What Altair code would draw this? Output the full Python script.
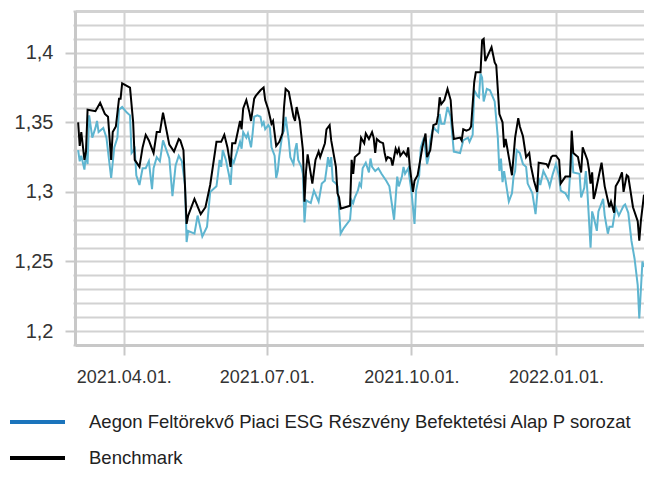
import altair as alt
import pandas as pd

fund_name = "Aegon Feltörekvő Piaci ESG Részvény Befektetési Alap P sorozat"
bench_name = "Benchmark"

fund_dates = [
    "2021-03-03", "2021-03-04", "2021-03-05", "2021-03-07", "2021-03-08", "2021-03-09", "2021-03-10", "2021-03-12",
    "2021-03-14", "2021-03-15", "2021-03-16", "2021-03-19", "2021-03-21", "2021-03-24", "2021-03-26", "2021-03-28",
    "2021-03-29", "2021-03-31",
    "2021-04-03", "2021-04-05", "2021-04-06", "2021-04-08", "2021-04-09", "2021-04-11", "2021-04-13", "2021-04-15",
    "2021-04-17", "2021-04-19", "2021-04-20", "2021-04-22", "2021-04-24", "2021-04-26", "2021-04-30",
    "2021-05-02", "2021-05-04", "2021-05-06", "2021-05-08", "2021-05-10", "2021-05-11", "2021-05-12", "2021-05-16",
    "2021-05-18", "2021-05-21", "2021-05-24", "2021-05-26", "2021-05-30", "2021-05-31",
    "2021-06-01", "2021-06-02", "2021-06-03", "2021-06-05", "2021-06-07", "2021-06-08", "2021-06-09", "2021-06-10",
    "2021-06-14", "2021-06-15", "2021-06-16", "2021-06-18", "2021-06-19", "2021-06-21", "2021-06-22", "2021-06-23",
    "2021-06-25", "2021-06-27", "2021-06-28", "2021-06-29", "2021-06-30",
    "2021-07-02", "2021-07-03", "2021-07-04", "2021-07-06", "2021-07-07", "2021-07-08", "2021-07-09", "2021-07-11",
    "2021-07-12", "2021-07-13", "2021-07-15", "2021-07-16", "2021-07-18", "2021-07-19", "2021-07-20", "2021-07-21",
    "2021-07-23", "2021-07-24", "2021-07-25", "2021-07-26", "2021-07-29", "2021-07-31",
    "2021-08-03", "2021-08-05", "2021-08-07", "2021-08-08", "2021-08-09", "2021-08-10", "2021-08-11", "2021-08-12",
    "2021-08-14", "2021-08-15", "2021-08-17", "2021-08-19", "2021-08-23", "2021-08-24", "2021-08-25", "2021-08-26",
    "2021-08-28", "2021-08-29", "2021-08-30", "2021-08-31",
    "2021-09-02", "2021-09-04", "2021-09-05", "2021-09-06", "2021-09-08", "2021-09-10", "2021-09-12", "2021-09-15",
    "2021-09-17", "2021-09-20", "2021-09-22", "2021-09-23", "2021-09-25", "2021-09-26", "2021-09-27", "2021-09-29",
    "2021-10-01", "2021-10-03", "2021-10-04", "2021-10-06", "2021-10-07", "2021-10-09", "2021-10-11", "2021-10-12",
    "2021-10-13", "2021-10-15", "2021-10-16", "2021-10-18", "2021-10-19", "2021-10-20", "2021-10-22", "2021-10-24",
    "2021-10-26", "2021-10-28",
    "2021-11-01", "2021-11-03", "2021-11-06", "2021-11-07", "2021-11-09", "2021-11-10", "2021-11-12", "2021-11-13",
    "2021-11-14", "2021-11-15", "2021-11-16", "2021-11-18", "2021-11-20", "2021-11-23", "2021-11-25", "2021-11-26",
    "2021-11-27", "2021-11-28", "2021-11-29",
    "2021-12-02", "2021-12-04", "2021-12-05", "2021-12-06", "2021-12-07", "2021-12-09", "2021-12-11", "2021-12-13",
    "2021-12-14", "2021-12-17", "2021-12-19", "2021-12-21", "2021-12-22", "2021-12-24", "2021-12-27", "2021-12-28",
    "2021-12-30",
    "2022-01-01", "2022-01-03", "2022-01-04", "2022-01-07", "2022-01-09", "2022-01-11", "2022-01-12", "2022-01-16",
    "2022-01-17", "2022-01-19", "2022-01-20", "2022-01-21", "2022-01-23", "2022-01-24", "2022-01-25", "2022-01-27",
    "2022-01-28", "2022-01-31",
    "2022-02-01", "2022-02-03", "2022-02-04", "2022-02-06", "2022-02-08", "2022-02-10", "2022-02-13", "2022-02-14",
    "2022-02-16", "2022-02-18", "2022-02-20", "2022-02-22", "2022-02-23", "2022-02-25", "2022-02-26",
]
fund_values = [
    1.330, 1.322, 1.326, 1.316, 1.328, 1.320, 1.355, 1.339, 1.346, 1.351, 1.343, 1.346, 1.339, 1.310, 1.332, 1.339,
    1.359, 1.361,
    1.357, 1.355, 1.328, 1.331, 1.312, 1.305, 1.317, 1.317, 1.322, 1.302, 1.317, 1.325, 1.322, 1.337, 1.324,
    1.297, 1.319, 1.326, 1.322, 1.305, 1.264, 1.272, 1.270, 1.283, 1.268, 1.275, 1.300, 1.304, 1.313,
    1.323, 1.318, 1.330, 1.323, 1.312, 1.305, 1.323, 1.321, 1.336, 1.331, 1.343, 1.339, 1.342, 1.332, 1.342, 1.354,
    1.355, 1.354, 1.348, 1.350, 1.345,
    1.348, 1.346, 1.332, 1.326, 1.310, 1.315, 1.326, 1.342, 1.344, 1.354, 1.337, 1.325, 1.320, 1.330, 1.335, 1.323,
    1.318, 1.313, 1.278, 1.294, 1.292, 1.301,
    1.293, 1.306, 1.308, 1.316, 1.325, 1.318, 1.325, 1.308, 1.306, 1.304, 1.270, 1.274, 1.280, 1.294, 1.292, 1.296,
    1.301, 1.306, 1.304, 1.317,
    1.321, 1.314, 1.324, 1.318, 1.315, 1.317, 1.313, 1.308, 1.304, 1.280, 1.311, 1.304, 1.311, 1.318, 1.313, 1.317,
    1.301, 1.277, 1.301, 1.312, 1.332, 1.339, 1.320, 1.325, 1.337, 1.347, 1.345, 1.343, 1.356, 1.349, 1.349, 1.361,
    1.354, 1.329,
    1.328, 1.337, 1.339, 1.336, 1.341, 1.373, 1.369, 1.368, 1.385, 1.382, 1.365, 1.374, 1.373, 1.365, 1.339, 1.315,
    1.324, 1.307, 1.315,
    1.293, 1.299, 1.311, 1.315, 1.330, 1.328, 1.320, 1.318, 1.306, 1.299, 1.284, 1.310, 1.305, 1.315, 1.308, 1.304,
    1.313,
    1.320, 1.311, 1.301, 1.299, 1.295, 1.332, 1.314, 1.313, 1.296, 1.303, 1.315, 1.300, 1.260, 1.286, 1.282, 1.272,
    1.286, 1.295,
    1.283, 1.270, 1.275, 1.275, 1.289, 1.283, 1.290, 1.291, 1.285, 1.265, 1.252, 1.233, 1.209, 1.250, 1.246,
]

bench_dates = [
    "2021-03-03", "2021-03-04", "2021-03-05", "2021-03-07", "2021-03-08", "2021-03-09", "2021-03-14", "2021-03-17",
    "2021-03-20", "2021-03-22", "2021-03-24", "2021-03-25", "2021-03-27", "2021-03-29", "2021-03-30", "2021-03-31",
    "2021-04-05", "2021-04-07", "2021-04-08", "2021-04-11", "2021-04-13", "2021-04-15", "2021-04-17", "2021-04-19",
    "2021-04-20", "2021-04-22", "2021-04-24", "2021-04-26", "2021-04-30",
    "2021-05-03", "2021-05-06", "2021-05-07", "2021-05-09", "2021-05-11", "2021-05-12", "2021-05-16", "2021-05-20",
    "2021-05-23", "2021-05-26", "2021-05-30", "2021-05-31",
    "2021-06-02", "2021-06-04", "2021-06-06", "2021-06-08", "2021-06-09", "2021-06-11", "2021-06-14", "2021-06-15",
    "2021-06-16", "2021-06-18", "2021-06-20", "2021-06-21", "2021-06-23", "2021-06-24", "2021-06-27", "2021-06-29",
    "2021-06-30",
    "2021-07-02", "2021-07-04", "2021-07-05", "2021-07-07", "2021-07-09", "2021-07-11", "2021-07-12", "2021-07-13",
    "2021-07-15", "2021-07-18", "2021-07-19", "2021-07-20", "2021-07-22", "2021-07-24", "2021-07-25", "2021-07-26",
    "2021-07-27", "2021-07-30",
    "2021-08-01", "2021-08-03", "2021-08-04", "2021-08-07", "2021-08-08", "2021-08-10", "2021-08-11", "2021-08-14",
    "2021-08-15", "2021-08-16", "2021-08-17", "2021-08-23", "2021-08-24", "2021-08-25", "2021-08-26", "2021-08-29",
    "2021-08-30",
    "2021-09-01", "2021-09-02", "2021-09-04", "2021-09-06", "2021-09-07", "2021-09-08", "2021-09-09", "2021-09-11",
    "2021-09-13", "2021-09-14", "2021-09-15", "2021-09-16", "2021-09-18", "2021-09-19", "2021-09-21", "2021-09-22",
    "2021-09-23", "2021-09-24", "2021-09-26", "2021-09-28", "2021-09-29", "2021-09-30",
    "2021-10-02", "2021-10-03", "2021-10-05", "2021-10-08", "2021-10-10", "2021-10-11", "2021-10-13", "2021-10-15",
    "2021-10-17", "2021-10-18", "2021-10-19", "2021-10-20", "2021-10-22", "2021-10-24", "2021-10-26", "2021-10-27",
    "2021-10-28",
    "2021-11-01", "2021-11-02", "2021-11-03", "2021-11-05", "2021-11-07", "2021-11-08", "2021-11-10", "2021-11-11",
    "2021-11-14", "2021-11-15", "2021-11-16", "2021-11-17", "2021-11-19", "2021-11-21", "2021-11-23", "2021-11-24",
    "2021-11-26", "2021-11-28", "2021-11-29", "2021-11-30",
    "2021-12-02", "2021-12-04", "2021-12-06", "2021-12-08", "2021-12-09", "2021-12-11", "2021-12-13", "2021-12-15",
    "2021-12-16", "2021-12-18", "2021-12-20", "2021-12-21", "2021-12-26", "2021-12-27", "2021-12-29", "2021-12-30",
    "2022-01-01", "2022-01-03", "2022-01-04", "2022-01-07", "2022-01-10", "2022-01-11", "2022-01-12", "2022-01-15",
    "2022-01-16", "2022-01-17", "2022-01-18", "2022-01-21", "2022-01-22", "2022-01-23", "2022-01-24", "2022-01-25",
    "2022-01-26", "2022-01-30",
    "2022-02-01", "2022-02-04", "2022-02-05", "2022-02-07", "2022-02-08", "2022-02-10", "2022-02-12", "2022-02-13",
    "2022-02-15", "2022-02-16", "2022-02-19", "2022-02-22", "2022-02-23", "2022-02-24", "2022-02-26",
]
bench_values = [
    1.350, 1.333, 1.343, 1.323, 1.329, 1.359, 1.358, 1.364, 1.356, 1.354, 1.323, 1.343, 1.347, 1.367, 1.367, 1.378,
    1.375, 1.350, 1.323, 1.318, 1.332, 1.341, 1.337, 1.331, 1.328, 1.343, 1.343, 1.357, 1.334,
    1.329, 1.338, 1.337, 1.330, 1.277, 1.283, 1.295, 1.284, 1.289, 1.305, 1.336, 1.336,
    1.336, 1.341, 1.332, 1.318, 1.335, 1.335, 1.351, 1.345, 1.360, 1.366, 1.357, 1.351, 1.367, 1.369, 1.373, 1.375,
    1.366,
    1.359, 1.349, 1.351, 1.333, 1.336, 1.342, 1.361, 1.374, 1.372, 1.354, 1.351, 1.361, 1.351, 1.330, 1.293, 1.315,
    1.327, 1.306,
    1.323, 1.329, 1.325, 1.335, 1.345, 1.348, 1.337, 1.318, 1.299, 1.296, 1.288, 1.290, 1.323, 1.313, 1.325, 1.328,
    1.339,
    1.335, 1.342, 1.338, 1.343, 1.339, 1.328, 1.338, 1.336, 1.335, 1.328, 1.323, 1.325, 1.324, 1.319, 1.331, 1.328,
    1.331, 1.326, 1.329, 1.326, 1.332, 1.318,
    1.300, 1.308, 1.312, 1.332, 1.342, 1.325, 1.330, 1.348, 1.349, 1.355, 1.368, 1.363, 1.366, 1.374, 1.366, 1.349,
    1.338,
    1.339, 1.337, 1.345, 1.344, 1.345, 1.347, 1.379, 1.386, 1.386, 1.409, 1.410, 1.394, 1.399, 1.404, 1.393, 1.391,
    1.356, 1.350, 1.332, 1.338,
    1.325, 1.312, 1.339, 1.353, 1.347, 1.340, 1.325, 1.328, 1.319, 1.308, 1.300, 1.321, 1.320, 1.318, 1.325, 1.326,
    1.326, 1.323, 1.306, 1.311, 1.311, 1.344, 1.328, 1.325, 1.319, 1.314, 1.332, 1.323, 1.316, 1.306, 1.314, 1.295,
    1.299, 1.321,
    1.304, 1.289, 1.293, 1.285, 1.304, 1.308, 1.314, 1.300, 1.312, 1.311, 1.289, 1.279, 1.265, 1.279, 1.298,
]

y_ticks = [1.19, 1.20, 1.21, 1.22, 1.23, 1.24, 1.25, 1.26, 1.27, 1.28, 1.29, 1.30, 1.31,
           1.32, 1.33, 1.34, 1.35, 1.36, 1.37, 1.38, 1.39, 1.40, 1.41, 1.42, 1.43]
y_domain = [1.19, 1.43]
x_ticks = [(2021, 4, 1), (2021, 7, 1), (2021, 10, 1), (2022, 1, 1)]
x_domain = [(2021, 3, 1), (2022, 2, 26)]

series_names = [fund_name, bench_name]
line_colors = ["#5eb5d0", "#000000"]
legend_colors = ["#1b74bc", "#000000"]

df = pd.DataFrame({
    "date": fund_dates + bench_dates,
    "value": fund_values + bench_values,
    "series": [fund_name] * len(fund_dates) + [bench_name] * len(bench_dates),
})
df["legend_series"] = df["series"]


def dt(t):
    return alt.DateTime(year=t[0], month=t[1], date=t[2], utc=True)


FONT = "Liberation Sans"
GRID = "#d2d2d2"
AXIS = "#c8c8c8"

x_enc = alt.X(
    "date:T",
    scale=alt.Scale(type="utc", domain=[dt(t) for t in x_domain]),
    axis=alt.Axis(
        values=[dt(t) for t in x_ticks],
        labelExpr="utcFormat(datum.value, '%Y.%m.%d.')",
        title=None,
        grid=True,
        gridColor=GRID,
        gridWidth=2,
        domainColor=AXIS,
        domainWidth=3,
        tickColor=AXIS,
        tickWidth=2,
        tickSize=10,
        labelFont=FONT,
        labelFontSize=18,
        labelColor="#333333",
        labelPadding=13,
        labelFlush=False,
        labelOverlap=False,
    ),
)

is_major = "abs(datum.value*20 - round(datum.value*20)) < 0.001"

y_enc = alt.Y(
    "value:Q",
    scale=alt.Scale(domain=y_domain, nice=False, zero=False),
    axis=alt.Axis(
        values=y_ticks,
        labelExpr=f"{is_major} ? replace(format(datum.value, '.2~f'), '.', ',') : ''",
        title=None,
        grid=True,
        gridColor=GRID,
        gridWidth={"condition": {"test": "datum.value > 1.425", "value": 3}, "value": 2},
        domainColor=AXIS,
        domainWidth=3,
        tickColor=AXIS,
        tickWidth=2,
        tickSize={"condition": {"test": is_major, "value": 10}, "value": 2},
        labelFont=FONT,
        labelFontSize=20,
        labelColor="#333333",
        labelPadding=12,
        labelOverlap=False,
        labelFlush=False,
    ),
)

# line colours: data-driven (alphabetical) domain, so this scale is not merged
# with the legend scale below
lines = alt.Chart(df).mark_line(strokeWidth=2, clip=True).encode(
    x=x_enc,
    y=y_enc,
    stroke=alt.Stroke(
        "series:N",
        scale=alt.Scale(range=line_colors),
        sort="ascending",
        legend=None,
    ),
)

# legend-only layer: its lines sit far below the y domain and are clipped away
legend_layer = alt.Chart(df).transform_calculate(
    value="0"
).mark_line(strokeWidth=4, clip=True).encode(
    x=x_enc,
    y=y_enc,
    color=alt.Color(
        "legend_series:N",
        scale=alt.Scale(domain=series_names, range=legend_colors),
        legend=alt.Legend(
            orient="none",
            legendX=-67,
            legendY=393,
            direction="vertical",
            title=None,
            symbolType="stroke",
            symbolSize=3025,
            symbolStrokeWidth=4,
            labelFont=FONT,
            labelFontSize=18.5,
            labelColor="#222222",
            labelOffset=22,
            labelLimit=900,
            clipHeight=36,
            rowPadding=0,
            padding=0,
        ),
    ),
)

chart = alt.layer(lines, legend_layer).properties(
    width=569,
    height=334,
    padding={"left": 67, "top": 3, "right": 0, "bottom": 129},
    autosize=alt.AutoSizeParams(type="none"),
).configure_view(stroke=None).configure(background="white")

chart.save("out.html", embed_options={"renderer": "svg", "actions": False})
